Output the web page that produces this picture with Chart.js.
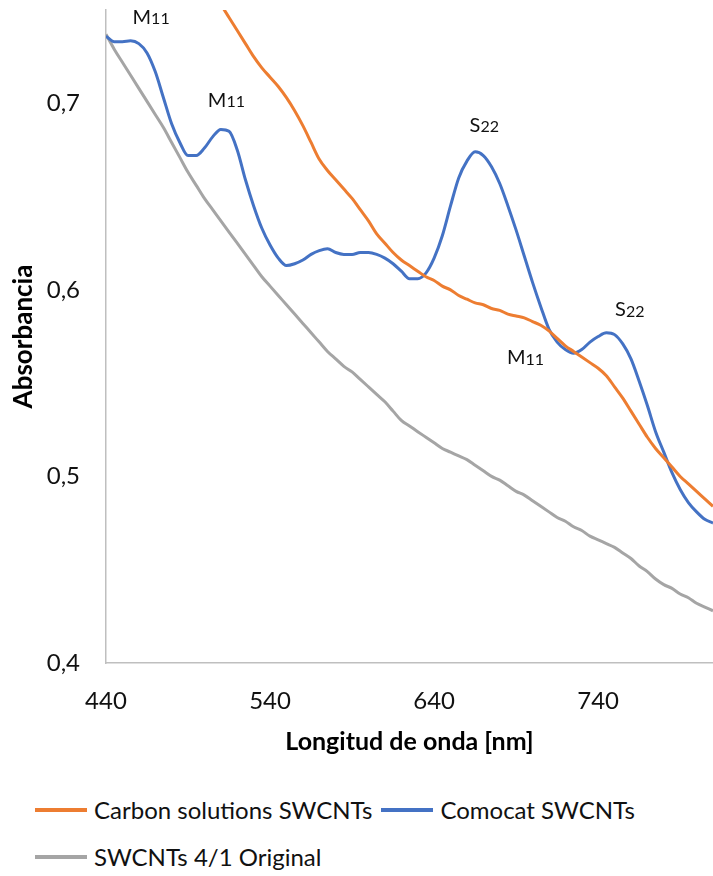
<!DOCTYPE html>
<html>
<head>
<meta charset="utf-8">
<script src="https://cdn.jsdelivr.net/npm/chart.js@4.4.1/dist/chart.umd.min.js"></script>
<style>
  body { margin: 0; background: #fff; font-family: Lato, sans-serif; }
  #wrap { position: relative; width: 713px; height: 786px; }
  #legend { display: flex; flex-wrap: wrap; width: 660px; padding-left: 35px; }
  .item { display: flex; align-items: center; height: 47px; margin-right: 9px; font-size: 24px; color: #111; }
  .item span.swatch { display: inline-block; width: 52px; height: 4px; margin-right: 7px; }
</style>
</head>
<body>
<div id="wrap"><canvas id="absChart"></canvas></div>
<div id="legend"></div>
<script>
// wavelengths (nm), 5 nm step
const wavelengths = [];
for (let w = 440; w <= 810; w += 5) wavelengths.push(w);

const carbonSolutions = [
    null, null, null, null, null, null, null, null, null, null, null, null,
    0.768, 0.760, 0.753, 0.746, 0.739, 0.732, 0.725, 0.719, 0.714, 0.709,
    0.703, 0.696, 0.688, 0.679, 0.670, 0.664, 0.659, 0.654, 0.649, 0.643,
    0.637, 0.630, 0.625, 0.620, 0.616, 0.613, 0.610, 0.607, 0.605, 0.602,
    0.600, 0.597, 0.595, 0.593, 0.592, 0.590, 0.589, 0.587, 0.586, 0.585,
    0.583, 0.581, 0.578, 0.574, 0.570, 0.567, 0.564, 0.561, 0.558, 0.554,
    0.548, 0.542, 0.535, 0.528, 0.521, 0.515, 0.510, 0.505, 0.500, 0.496,
    0.492, 0.488, 0.484
];

const comocat = [
    0.736, 0.733, 0.733, 0.7335, 0.732, 0.727, 0.717, 0.703, 0.689, 0.679,
    0.672, 0.672, 0.676, 0.682, 0.686, 0.685, 0.675, 0.659, 0.645, 0.633,
    0.624, 0.617, 0.613, 0.614, 0.616, 0.619, 0.621, 0.622, 0.620, 0.619,
    0.619, 0.620, 0.620, 0.619, 0.617, 0.614, 0.610, 0.606, 0.606, 0.609,
    0.617, 0.629, 0.645, 0.660, 0.669, 0.674, 0.672, 0.666, 0.657, 0.645,
    0.632, 0.618, 0.604, 0.591, 0.579, 0.572, 0.568, 0.566, 0.568, 0.572,
    0.575, 0.577, 0.576, 0.571, 0.563, 0.551, 0.538, 0.524, 0.513, 0.502,
    0.493, 0.486, 0.481, 0.477, 0.475
];

const original41 = [
    0.737, 0.729, 0.722, 0.715, 0.708, 0.701, 0.694, 0.687, 0.679, 0.671,
    0.663, 0.656, 0.649, 0.643, 0.637, 0.631, 0.625, 0.619, 0.613, 0.607,
    0.602, 0.597, 0.592, 0.587, 0.582, 0.577, 0.572, 0.567, 0.563, 0.559,
    0.556, 0.552, 0.548, 0.544, 0.540, 0.535, 0.530, 0.527, 0.524, 0.521,
    0.518, 0.515, 0.513, 0.511, 0.509, 0.506, 0.503, 0.500, 0.498, 0.495,
    0.492, 0.490, 0.487, 0.484, 0.481, 0.478, 0.476, 0.473, 0.471, 0.468,
    0.466, 0.464, 0.462, 0.459, 0.456, 0.452, 0.449, 0.445, 0.442, 0.440,
    0.437, 0.435, 0.432, 0.430, 0.428
];

// peak labels: letter + small index
const peakLetters = ['M', 'M', 'S', 'S', 'M'];
const peakIndex = ['11', '11', '22', '22', '11'];
const peakX = [467.5, 513.4, 670.6, 759.3, 695.7];
const peakY = [0.7462, 0.7017, 0.6882, 0.5895, 0.5637];

const xTicks = [440, 540, 640, 740];
const yTicks = [0.4, 0.5, 0.6, 0.7];

function toPoints(values) {
    return wavelengths.map((w, i) => ({ x: w, y: values[i] }));
}

const peakLabels = {
    id: 'peakLabels',
    afterDatasetsDraw(chart) {
        const c = chart.ctx;
        const xs = chart.scales.x, ys = chart.scales.y;
        c.save();
        c.fillStyle = '#111';
        c.textBaseline = 'middle';
        peakLetters.forEach((letter, i) => {
            const px = xs.getPixelForValue(peakX[i]);
            const py = ys.getPixelForValue(peakY[i]);
            c.font = '20px Lato';
            const w1 = c.measureText(letter).width;
            c.font = '16px Lato';
            const w2 = c.measureText(peakIndex[i]).width;
            const left = px - (w1 + w2) / 2;
            c.font = '20px Lato';
            c.fillText(letter, left, py);
            c.font = '16px Lato';
            c.fillText(peakIndex[i], left + w1, py + 2);
        });
        c.restore();
    }
};

const ctx = document.getElementById('absChart').getContext('2d');

const absChart = new Chart(ctx, {
    type: 'line',
    data: {
        datasets: [{
            label: 'Carbon solutions SWCNTs',
            data: toPoints(carbonSolutions),
            borderColor: '#ED7D31',
            backgroundColor: '#ED7D31'
        }, {
            label: 'Comocat SWCNTs',
            data: toPoints(comocat),
            borderColor: '#4472C4',
            backgroundColor: '#4472C4'
        }, {
            label: 'SWCNTs 4/1 Original',
            data: toPoints(original41),
            borderColor: '#A5A5A5',
            backgroundColor: '#A5A5A5'
        }]
    },
    options: {
        responsive: true,
        maintainAspectRatio: false,
        animation: false,
        layout: { padding: { top: 10, right: 0, left: 0, bottom: 0 } },
        elements: {
            point: { radius: 0 },
            line: { borderWidth: 3, tension: 0.4, cubicInterpolationMode: 'monotone' }
        },
        plugins: {
            legend: { display: false }, // drawn as html below
            tooltip: { enabled: false }
        },
        scales: {
            x: {
                type: 'linear',
                min: 440,
                max: 810,
                afterBuildTicks: scale => { scale.ticks = xTicks.map(v => ({ value: v })); },
                afterFit: scale => { scale.height = 123; scale.paddingLeft = 0; scale.paddingRight = 0; },
                grid: { display: false, drawTicks: false },
                border: { display: true, color: '#BFBFBF', width: 1.5 },
                ticks: { padding: 24, color: '#111', font: { family: 'Lato', size: 24 }, maxRotation: 0 },
                title: {
                    display: true,
                    text: 'Longitud de onda [nm]',
                    color: '#000',
                    font: { family: 'Lato', size: 25, weight: 'bold' },
                    padding: { top: 0, bottom: 29 }
                }
            },
            y: {
                min: 0.4,
                max: 0.75,
                afterBuildTicks: scale => { scale.ticks = yTicks.map(v => ({ value: v })); },
                afterFit: scale => { scale.width = 106; scale.paddingTop = 0; scale.paddingBottom = 0; },
                grid: { display: false, drawTicks: false },
                border: { display: true, color: '#BFBFBF', width: 1.5 },
                ticks: {
                    padding: 26,
                    color: '#111',
                    font: { family: 'Lato', size: 24 },
                    callback: v => v.toFixed(1).replace('.', ',')
                },
                title: {
                    display: true,
                    text: 'Absorbancia',
                    color: '#000',
                    font: { family: 'Lato', size: 26, weight: 'bold' },
                    padding: { top: 8, bottom: 0 }
                }
            }
        }
    },
    plugins: [peakLabels]
});

// html legend
const legendBox = document.getElementById('legend');
absChart.data.datasets.forEach(ds => {
    const item = document.createElement('div');
    item.className = 'item';
    item.innerHTML = '<span class="swatch" style="background:' + ds.borderColor + '"></span>' + ds.label;
    legendBox.appendChild(item);
});
</script>
</body>
</html>
